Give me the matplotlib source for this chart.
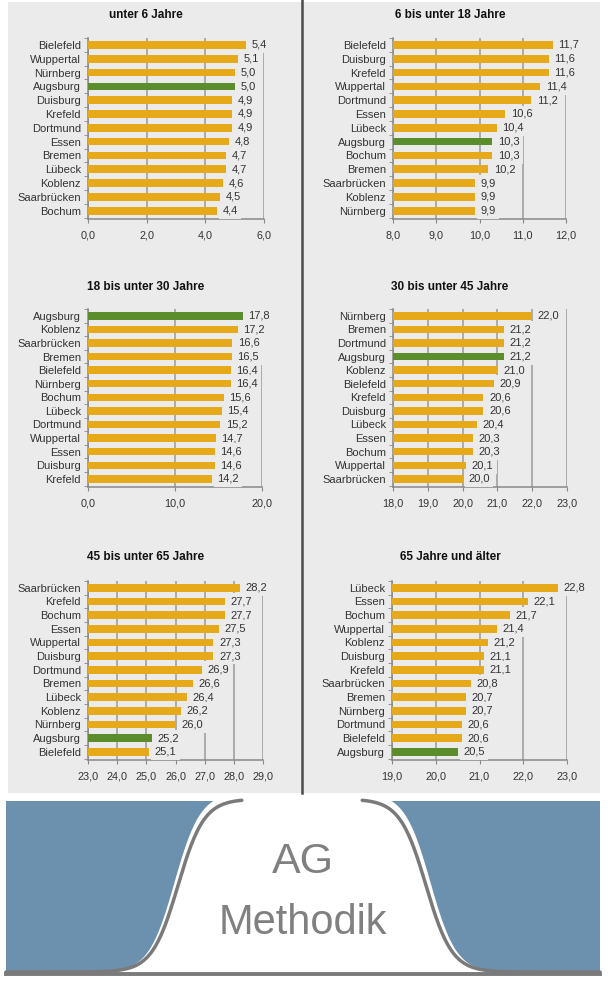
import matplotlib.pyplot as plt
import numpy as np
from matplotlib.patches import Rectangle

plt.rcParams['font.family'] = ['Liberation Sans', 'DejaVu Sans']

W, H = 608, 999

# data per panel
titles = ["unter 6 Jahre", "6 bis unter 18 Jahre", "18 bis unter 30 Jahre",
          "30 bis unter 45 Jahre", "45 bis unter 65 Jahre", "65 Jahre und älter"]

cities_1 = ["Bielefeld", "Wuppertal", "Nürnberg", "Augsburg", "Duisburg", "Krefeld", "Dortmund",
            "Essen", "Bremen", "Lübeck", "Koblenz", "Saarbrücken", "Bochum"]
values_1 = [5.4, 5.1, 5.0, 5.0, 4.9, 4.9, 4.9, 4.8, 4.7, 4.7, 4.6, 4.5, 4.4]

cities_2 = ["Bielefeld", "Duisburg", "Krefeld", "Wuppertal", "Dortmund", "Essen", "Lübeck",
            "Augsburg", "Bochum", "Bremen", "Saarbrücken", "Koblenz", "Nürnberg"]
values_2 = [11.7, 11.6, 11.6, 11.4, 11.2, 10.6, 10.4, 10.3, 10.3, 10.2, 9.9, 9.9, 9.9]

cities_3 = ["Augsburg", "Koblenz", "Saarbrücken", "Bremen", "Bielefeld", "Nürnberg", "Bochum",
            "Lübeck", "Dortmund", "Wuppertal", "Essen", "Duisburg", "Krefeld"]
values_3 = [17.8, 17.2, 16.6, 16.5, 16.4, 16.4, 15.6, 15.4, 15.2, 14.7, 14.6, 14.6, 14.2]

cities_4 = ["Nürnberg", "Bremen", "Dortmund", "Augsburg", "Koblenz", "Bielefeld", "Krefeld",
            "Duisburg", "Lübeck", "Essen", "Bochum", "Wuppertal", "Saarbrücken"]
values_4 = [22.0, 21.2, 21.2, 21.2, 21.0, 20.9, 20.6, 20.6, 20.4, 20.3, 20.3, 20.1, 20.0]

cities_5 = ["Saarbrücken", "Krefeld", "Bochum", "Essen", "Wuppertal", "Duisburg", "Dortmund",
            "Bremen", "Lübeck", "Koblenz", "Nürnberg", "Augsburg", "Bielefeld"]
values_5 = [28.2, 27.7, 27.7, 27.5, 27.3, 27.3, 26.9, 26.6, 26.4, 26.2, 26.0, 25.2, 25.1]

cities_6 = ["Lübeck", "Essen", "Bochum", "Wuppertal", "Koblenz", "Duisburg", "Krefeld",
            "Saarbrücken", "Bremen", "Nürnberg", "Dortmund", "Bielefeld", "Augsburg"]
values_6 = [22.8, 22.1, 21.7, 21.4, 21.2, 21.1, 21.1, 20.8, 20.7, 20.7, 20.6, 20.6, 20.5]

xranges = [(0, 6, 2), (8, 12, 1), (0, 20, 10), (18, 23, 1), (23, 29, 1), (19, 23, 1)]

highlight = "Augsburg"
bg = '#ebebeb'
gold = '#e6a91a'
green = '#5b8d2c'
grid = '#9a9a9a'


def px(left, top, right, bottom):
    return [left / W, 1 - bottom / H, (right - left) / W, (bottom - top) / H]


fig = plt.figure(figsize=(W / 100, H / 100), dpi=100)
fig.patch.set_facecolor('white')

# panel background + divider
back = fig.add_axes([0, 0, 1, 1], zorder=-10)
back.set_xlim(0, W)
back.set_ylim(H, 0)
back.axis('off')
back.add_patch(Rectangle((8, 2), 592, 791, facecolor=bg, edgecolor='none'))
back.plot([302, 302], [0, 793], color='#4a4a4a', lw=1.8)

rects = [(88, 38, 264, 219), (393, 38, 566, 219),
         (88, 309, 262, 487), (393, 309, 567, 487),
         (88, 581, 263, 760), (392, 581, 567, 760)]
title_pos = [(146, 15), (450, 15), (146, 287), (450, 287), (146, 557), (450, 557)]

all_cities = [cities_1, cities_2, cities_3, cities_4, cities_5, cities_6]
all_values = [values_1, values_2, values_3, values_4, values_5, values_6]

for i in range(6):
    ax = fig.add_axes(px(*rects[i]))
    ax.set_facecolor('none')
    cities = all_cities[i]
    vals = all_values[i]
    x0, x1, step = xranges[i]
    y = np.arange(len(cities))
    colors = [green if c == highlight else gold for c in cities]
    ax.barh(y, [v - x0 for v in vals], left=x0, height=0.55, color=colors, zorder=3)
    for yy, v in zip(y, vals):
        ax.annotate(f"{v:.1f}".replace('.', ','), (v, yy), xytext=(4, 0),
                    textcoords='offset points', va='center', ha='left', fontsize=8,
                    color='#333333', zorder=4,
                    bbox=dict(boxstyle='square,pad=0.3', fc=bg, ec='none'))
    ticks = np.arange(x0, x1 + step / 2, step)
    ax.set_xlim(x0, x1)
    ax.set_xticks(ticks)
    ax.set_xticklabels([f"{t:.1f}".replace('.', ',') for t in ticks], fontsize=7.8, color='#333333')
    ax.set_ylim(len(cities) - 0.4, -0.45)
    ax.set_yticks(y)
    ax.set_yticklabels(cities, fontsize=8, color='#333333')
    ax.set_yticks(np.arange(len(cities) + 1) - 0.5, minor=True)
    ax.tick_params(axis='y', which='major', length=0, pad=5)
    ax.tick_params(axis='y', which='minor', length=3, color='#888888')
    ax.tick_params(axis='x', length=3, color='#888888', pad=5)
    ax.xaxis.grid(True, color=grid, lw=1.1, zorder=0)
    ax.set_axisbelow(True)
    for s in ['top', 'right']:
        ax.spines[s].set_visible(False)
    for s in ['left', 'bottom']:
        ax.spines[s].set_color('#888888')
        ax.spines[s].set_linewidth(1.1)
    fig.text(title_pos[i][0] / W, 1 - title_pos[i][1] / H, titles[i], ha='center', va='center',
             fontsize=8.5, fontweight='bold', color='#111111')

# banner at the bottom with the bell shape
ban = fig.add_axes([0, 0, 1, 1], zorder=5)
ban.set_xlim(0, W)
ban.set_ylim(H, 0)
ban.axis('off')
ban.add_patch(Rectangle((6, 801), 594, 170, facecolor='#6c91ae', edgecolor='none'))
xs = np.linspace(6, 600, 1200)
base = 972
dx = np.abs(xs - 302)
bell_fill = base - 180 / (1 + np.exp((dx - 128) / 13))
ban.fill_between(xs, np.maximum(bell_fill, 799), base + 1, color='white', lw=0)
bell_line = base - 173 / (1 + np.exp((dx - 124) / 13))
line_y = np.where(dx < 60, np.nan, bell_line)
ban.plot(xs, line_y, color='#7a7a7a', lw=2.5, solid_capstyle='round')
ban.plot([6, 600], [973.5, 973.5], color='#7a7a7a', lw=2.8)
ban.text(303, 862, "AG", ha='center', va='center', fontsize=31, color='#808080')
ban.text(303, 923, "Methodik", ha='center', va='center', fontsize=30, color='#808080')

plt.savefig('out.png', dpi=100)
